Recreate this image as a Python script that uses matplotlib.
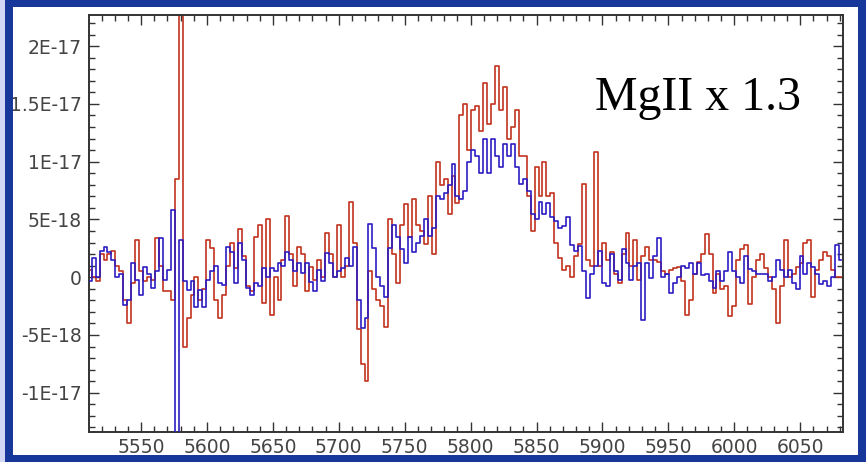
import numpy as np
import matplotlib
matplotlib.use("Agg")
import matplotlib.pyplot as plt
from matplotlib.patches import Rectangle
from matplotlib.ticker import MultipleLocator

# wavelength grid (Angstrom), 3 A bins
wave_start, wave_step, n_bins = 5511, 3, 191
wave = wave_start + wave_step * np.arange(n_bins)

# flux in units of 1e-18
red_flux = [
    0.6, 0.0, -0.3, 2.0, 1.5, 2.0, 2.3, 1.0, 0.5, -2.0,
    -4.0, -0.5, 3.2, 0.5, -0.3, 0.0, -0.2, 3.4, 1.0, -1.2,
    -1.2, -2.0, 8.5, 30.0, -6.0, -3.5, -1.5, 0.0, -2.0, -1.0,
    3.2, 2.5, -2.0, -3.5, -1.5, 1.0, 3.0, 0.8, 4.2, 1.8,
    -0.8, -1.2, 3.5, 4.5, -2.2, 5.0, -3.3, 0.0, -2.0, 1.5,
    5.3, 2.0, -0.8, 2.6, 2.0, -1.2, 0.9, -0.2, 1.5, 0.0,
    3.8, 2.0, 0.0, 4.5, 0.0, 1.0, 6.5, 3.0, -4.5, -7.5,
    -9.0, 0.5, -1.0, -2.0, -2.5, -4.3, 5.0, 2.0, -0.5, 4.5,
    6.3, 3.5, 6.8, 4.5, 4.0, 2.9, 7.0, 2.0, 10.0, 8.0,
    8.5, 5.5, 8.8, 6.4, 14.0, 15.0, 11.0, 14.5, 14.8, 12.7,
    16.8, 13.3, 15.0, 18.3, 14.5, 16.5, 12.0, 13.0, 14.5, 10.5,
    10.5, 7.0, 4.0, 9.5, 7.0, 10.0, 7.0, 7.3, 3.0, 1.7,
    0.6, 1.0, 0.0, 1.8, 2.9, 8.1, 1.5, 1.0, 10.8, 1.0,
    3.0, 1.5, 2.2, 0.3, -0.5, 2.0, 3.8, 1.0, 3.2, -0.2,
    1.8, 2.6, 1.5, 1.5, 1.3, 0.5, 0.3, 0.6, 0.8, 0.9,
    -0.3, -3.3, -2.0, 0.3, 1.3, 2.0, 3.7, 2.0, -1.4, 0.3,
    -1.0, -0.8, -3.4, -2.5, 1.5, 2.4, 2.8, -2.3, 0.0, 1.5,
    2.0, 0.8, 0.0, -1.0, -4.0, -0.8, 3.2, 0.0, 0.3, 0.9,
    1.2, 3.0, 3.2, -1.7, 0.6, 1.5, 2.2, 1.8, 0.6, 0.0, 0.0,
]

blue_flux = [
    -0.3, 1.7, 0.0, 2.3, 2.6, 2.2, 1.5, 0.0, 0.3, -2.4,
    -2.0, 1.2, -0.2, -1.5, 0.9, 0.3, -0.9, 0.5, 3.4, -0.2,
    0.6, 5.8, -13.8, 3.2, -0.3, -1.1, -0.3, -2.6, -1.1, -2.6,
    -0.2, 0.5, 1.0, -0.5, -0.7, 2.6, 2.2, -0.5, 3.0, 1.5,
    -0.9, -1.5, -0.5, -0.8, 0.8, 0.0, 0.8, 0.5, 1.2, 1.0,
    2.2, 1.5, 0.5, 1.2, 0.4, 1.2, -0.4, -1.2, 0.6, -0.3,
    2.1, 1.2, 0.0, 0.5, 0.8, 1.7, 1.0, 2.6, -2.0, -4.4,
    -3.5, 4.6, 2.5, 0.0, -0.8, -1.7, 2.5, 4.5, 3.5, 2.4,
    1.2, 3.5, 2.2, 3.0, 3.6, 5.0, 3.6, 4.3, 7.0, 6.8,
    7.3, 8.0, 9.8, 7.0, 6.8, 7.5, 10.0, 11.0, 10.5, 9.0,
    12.0, 9.0, 12.0, 10.5, 9.5, 11.5, 10.5, 11.5, 9.5, 8.1,
    8.5, 7.5, 5.5, 5.0, 6.5, 5.5, 6.4, 5.2, 4.9, 4.3,
    4.4, 5.2, 2.8, 2.3, 2.7, 0.5, -1.8, 0.3, 1.0, 2.3,
    -0.5, -0.8, 2.0, 0.5, -0.2, 2.4, 1.2, -0.2, 1.0, 1.2,
    -3.7, 1.2, -0.1, 1.8, 3.4, 0.0, 0.3, -1.4, -0.5, 0.0,
    1.0, 0.8, 1.2, 0.3, 1.2, 0.2, 0.3, -0.3, -0.9, 0.5,
    -0.3, 0.5, 2.2, 0.5, 0.0, -0.5, 1.8, 0.7, 0.5, 0.3,
    0.3, 0.3, -0.3, 0.0, 1.5, 0.6, 0.0, 0.6, -0.5, -1.0,
    1.8, 0.3, 1.2, 0.9, 0.3, -0.6, -0.3, -0.8, 0.0, 2.8, 1.5,
]

flux_unit = 1e-18
x_ticks = [5550, 5600, 5650, 5700, 5750, 5800, 5850, 5900, 5950, 6000, 6050]
y_ticks = [2e-17, 1.5e-17, 1e-17, 5e-18, 0, -5e-18, -1e-17]
y_tick_labels = ["2E-17", "1.5E-17", "1E-17", "5E-18", "0", "-5E-18", "-1E-17"]
label_text = "MgII x 1.3"

W, H = 866, 462
fig = plt.figure(figsize=(W / 100, H / 100), dpi=100)
fig.patch.set_facecolor("white")

ax = fig.add_axes([89 / W, (H - 432) / H, (843 - 89) / W, (432 - 15) / H])
ax.set_facecolor("white")

ax.step(wave, np.array(red_flux) * flux_unit, where="mid",
        color="#c2321e", lw=1.2, zorder=2)
ax.step(wave, np.array(blue_flux) * flux_unit, where="mid",
        color="#2c1cc4", lw=1.2, zorder=3)

ax.set_xlim(5510.5, 6082.5)
ax.set_ylim(-1.34e-17, 2.27e-17)

ax.set_xticks(x_ticks)
ax.set_xticklabels([str(t) for t in x_ticks])
ax.set_yticks(y_ticks)
ax.set_yticklabels(y_tick_labels)
ax.xaxis.set_minor_locator(MultipleLocator(10))
ax.yaxis.set_minor_locator(MultipleLocator(1e-18))

ax.tick_params(which="both", direction="in", top=True, right=True,
               color="#333333", width=1.0)
ax.tick_params(which="major", length=7)
ax.tick_params(which="minor", length=4)
ax.tick_params(axis="y", which="major", labelsize=13.5, labelcolor="#444444", pad=5)
ax.tick_params(axis="x", which="major", labelsize=13.5, labelcolor="#444444", pad=4)
for s in ax.spines.values():
    s.set_color("#333333")
    s.set_linewidth(1.4)

fig.text(595 / W, 1 - 110 / H, label_text, family="Liberation Serif",
         fontsize=34.5, color="black", ha="left", va="baseline")

# frame: dark blue border with lavender strip on the left
border = "#17389a"
def frect(x0, y0, x1, y1, color):
    fig.patches.append(Rectangle((x0 / W, 1 - y1 / H), (x1 - x0) / W, (y1 - y0) / H,
                                 transform=fig.transFigure, facecolor=color,
                                 edgecolor="none", zorder=10))
frect(0, 0, W, 7, border)
frect(0, 455, W, H, border)
frect(0, 0, 13, H, border)
frect(858, 0, W, H, border)
frect(0, 0, 5, H, "#d4d6f6")

fig.savefig("out.png", dpi=100, facecolor=fig.get_facecolor())
